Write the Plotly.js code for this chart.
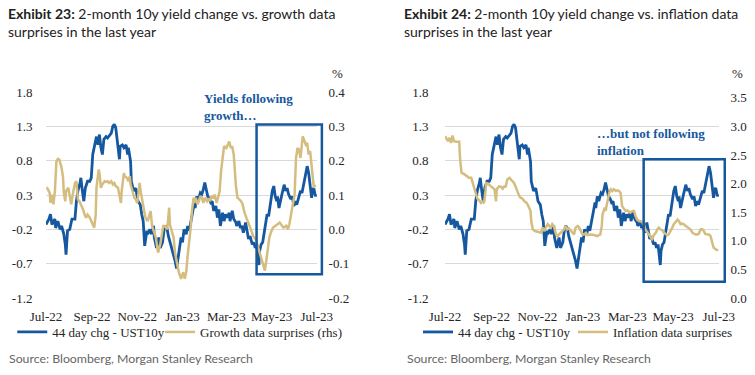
<!DOCTYPE html>
<html><head><meta charset="utf-8">
<script src="https://cdn.plot.ly/plotly-3.0.1.min.js"></script>
<style>
html,body{margin:0;padding:0;background:#fff;width:755px;height:375px;overflow:hidden}
#c1{position:absolute;left:0;top:0;width:377px;height:375px}
#c2{position:absolute;left:378px;top:0;width:377px;height:375px}
</style>
</head><body><div id="c1"></div><div id="c2"></div>
<script>
// 44 day change in UST 10y yield (left axis), same series in both exhibits
const ust10yChg = [
["2022-07-01",-0.13],["2022-07-05",-0.05],["2022-07-07",0.02],["2022-07-09",-0.13],["2022-07-13",-0.05],["2022-07-14",-0.18],["2022-07-17",-0.08],["2022-07-20",-0.20],["2022-07-22",-0.15],["2022-07-25",-0.27],["2022-07-27",-0.42],["2022-07-28",-0.57],["2022-07-30",-0.22],
["2022-08-02",-0.20],["2022-08-05",-0.05],["2022-08-09",-0.05],["2022-08-11",0.21],["2022-08-13",0.36],["2022-08-16",0.48],["2022-08-17",0.55],["2022-08-19",0.36],["2022-08-21",0.21],["2022-08-23",0.40],["2022-08-26",0.50],["2022-08-29",0.50],["2022-08-31",0.55],
["2022-09-02",0.89],["2022-09-05",1.03],["2022-09-07",1.15],["2022-09-09",1.03],["2022-09-11",1.18],["2022-09-13",0.99],["2022-09-15",0.89],["2022-09-17",1.11],["2022-09-20",1.15],["2022-09-22",1.13],["2022-09-25",1.18],["2022-09-27",1.20],["2022-09-29",1.30],
["2022-10-01",1.33],["2022-10-03",1.28],["2022-10-06",1.03],["2022-10-08",0.82],["2022-10-09",1.01],["2022-10-12",1.03],["2022-10-14",0.99],["2022-10-17",1.03],["2022-10-19",0.89],["2022-10-20",0.99],["2022-10-23",0.79],["2022-10-24",0.50],["2022-10-27",0.36],["2022-10-30",0.40],
["2022-11-02",0.21],["2022-11-05",0.16],["2022-11-07",0.02],["2022-11-09",-0.08],["2022-11-11",-0.44],["2022-11-14",-0.22],["2022-11-15",-0.27],["2022-11-18",-0.20],["2022-11-20",-0.27],["2022-11-23",-0.15],["2022-11-24",-0.32],["2022-11-27",-0.47],["2022-11-30",-0.32],
["2022-12-02",-0.47],["2022-12-05",-0.39],["2022-12-07",-0.22],["2022-12-09",-0.15],["2022-12-11",-0.18],["2022-12-13",-0.30],["2022-12-16",-0.42],["2022-12-18",-0.51],["2022-12-20",-0.56],["2022-12-22",-0.66],["2022-12-24",-0.77],["2022-12-26",-0.61],["2022-12-28",-0.42],["2022-12-30",-0.32],
["2023-01-01",-0.39],["2023-01-03",-0.20],["2023-01-06",-0.27],["2023-01-08",-0.15],["2023-01-10",-0.22],["2023-01-12",-0.08],["2023-01-15",0.07],["2023-01-17",0.19],["2023-01-18",0.11],["2023-01-20",0.28],["2023-01-22",0.21],["2023-01-25",0.33],["2023-01-27",0.31],["2023-01-29",0.38],["2023-01-31",0.48],
["2023-02-02",0.38],["2023-02-04",0.28],["2023-02-06",0.25],["2023-02-08",0.19],["2023-02-10",0.21],["2023-02-12",0.07],["2023-02-15",0.14],["2023-02-17",-0.03],["2023-02-19",0.09],["2023-02-21",-0.15],["2023-02-24",0.04],["2023-02-26",-0.08],["2023-02-28",0.02],
["2023-03-02",-0.03],["2023-03-05",0.04],["2023-03-06",-0.08],["2023-03-09",0.07],["2023-03-11",-0.05],["2023-03-14",-0.10],["2023-03-15",-0.15],["2023-03-18",-0.08],["2023-03-20",-0.18],["2023-03-22",-0.15],["2023-03-24",-0.25],["2023-03-27",-0.10],["2023-03-29",-0.22],["2023-03-31",-0.34],
["2023-04-02",-0.30],["2023-04-05",-0.42],["2023-04-07",-0.39],["2023-04-09",-0.47],["2023-04-11",-0.42],["2023-04-13",-0.61],["2023-04-14",-0.72],["2023-04-15",-0.51],["2023-04-17",-0.42],["2023-04-19",-0.39],["2023-04-21",-0.25],["2023-04-23",-0.15],["2023-04-25",0.02],["2023-04-27",-0.01],["2023-04-29",0.16],["2023-04-30",0.24],
["2023-05-02",0.36],["2023-05-04",0.43],["2023-05-06",0.28],["2023-05-08",0.21],["2023-05-09",0.28],["2023-05-11",0.11],["2023-05-13",0.24],["2023-05-15",0.31],["2023-05-18",0.45],["2023-05-20",0.36],["2023-05-22",0.40],["2023-05-24",0.31],["2023-05-27",0.24],["2023-05-29",0.28],["2023-05-31",0.14],
["2023-06-02",0.21],["2023-06-04",0.16],["2023-06-07",0.28],["2023-06-09",0.36],["2023-06-11",0.33],["2023-06-13",0.43],["2023-06-16",0.60],["2023-06-18",0.72],["2023-06-20",0.62],["2023-06-22",0.38],["2023-06-24",0.26],["2023-06-25",0.38],["2023-06-27",0.40],["2023-06-29",0.28],["2023-06-30",0.31]
];

// Growth data surprises (rhs, Exhibit 23)
const growthSurprise = [
["2022-07-02",0.123],["2022-07-04",0.116],["2022-07-06",0.106],["2022-07-07",0.077],["2022-07-09",0.101],["2022-07-11",0.073],["2022-07-13",0.111],["2022-07-15",0.198],["2022-07-17",0.205],["2022-07-19",0.203],["2022-07-22",0.179],["2022-07-24",0.150],["2022-07-25",0.106],["2022-07-27",0.082],["2022-07-28",0.111],["2022-07-31",0.121],
["2022-08-02",0.097],["2022-08-04",0.073],["2022-08-06",0.101],["2022-08-09",0.135],["2022-08-11",0.140],["2022-08-13",0.087],["2022-08-15",0.082],["2022-08-17",0.073],["2022-08-20",0.058],["2022-08-22",0.043],["2022-08-24",0.034],["2022-08-26",0.043],["2022-08-29",0.034],["2022-08-31",0.024],
["2022-09-02",0.014],["2022-09-04",0.005],["2022-09-06",0.043],["2022-09-07",0.121],["2022-09-10",0.174],["2022-09-11",0.164],["2022-09-13",0.121],["2022-09-15",0.131],["2022-09-18",0.140],["2022-09-20",0.138],["2022-09-22",0.140],["2022-09-24",0.135],["2022-09-27",0.140],["2022-09-29",0.131],
["2022-10-01",0.135],["2022-10-03",0.126],["2022-10-06",0.121],["2022-10-08",0.097],["2022-10-10",0.077],["2022-10-11",0.111],["2022-10-14",0.164],["2022-10-15",0.155],["2022-10-18",0.150],["2022-10-20",0.140],["2022-10-22",0.155],["2022-10-23",0.131],["2022-10-26",0.106],["2022-10-28",0.092],["2022-10-30",0.087],
["2022-11-01",0.077],["2022-11-03",0.111],["2022-11-04",0.135],["2022-11-06",0.106],["2022-11-08",0.082],["2022-11-10",0.053],["2022-11-12",0.034],["2022-11-15",0.024],["2022-11-17",0.039],["2022-11-19",0.053],["2022-11-21",0.010],["2022-11-24",-0.010],["2022-11-26",-0.024],["2022-11-28",-0.053],["2022-11-29",-0.068],
["2022-12-02",-0.044],["2022-12-04",-0.019],["2022-12-06",0.010],["2022-12-08",0.010],["2022-12-11",0.000],["2022-12-12",0.014],["2022-12-14",0.063],["2022-12-15",0.014],["2022-12-17",-0.005],["2022-12-20",-0.024],["2022-12-22",-0.070],["2022-12-24",-0.091],["2022-12-27",-0.125],["2022-12-30",-0.144],
["2023-01-02",-0.125],["2023-01-04",-0.144],["2023-01-06",-0.125],["2023-01-08",-0.075],["2023-01-10",-0.040],["2023-01-12",0.005],["2023-01-14",0.060],["2023-01-15",0.087],["2023-01-16",0.092],["2023-01-17",0.077],["2023-01-19",0.092],["2023-01-21",0.073],["2023-01-23",0.082],["2023-01-25",0.097],["2023-01-27",0.092],["2023-01-29",0.077],["2023-01-31",0.092],
["2023-02-03",0.082],["2023-02-05",0.090],["2023-02-07",0.082],["2023-02-09",0.097],["2023-02-11",0.090],["2023-02-13",0.101],["2023-02-16",0.077],["2023-02-18",0.092],["2023-02-20",0.111],["2023-02-22",0.170],["2023-02-24",0.208],["2023-02-26",0.242],
["2023-03-01",0.237],["2023-03-03",0.247],["2023-03-05",0.256],["2023-03-07",0.237],["2023-03-09",0.242],["2023-03-11",0.218],["2023-03-12",0.174],["2023-03-14",0.126],["2023-03-16",0.092],["2023-03-19",0.087],["2023-03-21",0.082],["2023-03-23",0.073],["2023-03-25",0.053],["2023-03-28",0.034],["2023-03-30",0.024],
["2023-04-01",0.010],["2023-04-04",-0.005],["2023-04-06",-0.019],["2023-04-10",-0.030],["2023-04-13",-0.053],["2023-04-18",-0.090],["2023-04-22",-0.120],["2023-04-24",-0.090],["2023-04-26",-0.053],["2023-04-28",-0.024],["2023-04-30",-0.010],
["2023-05-03",0.005],["2023-05-06",0.010],["2023-05-09",0.015],["2023-05-12",0.020],["2023-05-17",0.005],["2023-05-21",0.010],["2023-05-23",0.000],["2023-05-25",0.014],["2023-05-28",0.053],["2023-05-30",0.082],
["2023-06-01",0.100],["2023-06-03",0.208],["2023-06-05",0.237],["2023-06-07",0.232],["2023-06-09",0.208],["2023-06-12",0.271],["2023-06-14",0.261],["2023-06-16",0.247],["2023-06-18",0.252],["2023-06-20",0.218],["2023-06-22",0.228],["2023-06-25",0.150],["2023-06-27",0.121],["2023-06-29",0.130]
];

// Inflation data surprises (rhs, Exhibit 24)
const inflationSurprise = [
["2022-07-01",2.83],["2022-07-04",2.77],["2022-07-05",2.74],["2022-07-07",2.80],["2022-07-09",2.71],["2022-07-11",2.84],["2022-07-13",2.74],["2022-07-16",2.73],["2022-07-18",2.73],["2022-07-20",2.73],["2022-07-21",2.45],["2022-07-23",2.19],["2022-07-27",2.16],["2022-07-30",2.13],
["2022-08-02",2.10],["2022-08-05",2.10],["2022-08-07",2.01],["2022-08-09",1.93],["2022-08-11",1.81],["2022-08-13",1.74],["2022-08-16",1.70],["2022-08-18",1.66],["2022-08-20",1.68],["2022-08-22",1.66],["2022-08-24",1.87],["2022-08-25",2.01],["2022-08-27",2.00],["2022-08-29",1.98],["2022-08-31",1.95],
["2022-09-02",1.94],["2022-09-05",1.90],["2022-09-07",1.69],["2022-09-08",1.90],["2022-09-11",1.95],["2022-09-14",1.94],["2022-09-16",1.91],["2022-09-18",1.95],["2022-09-20",1.95],["2022-09-22",2.07],["2022-09-25",2.10],["2022-09-27",2.07],["2022-09-29",2.04],
["2022-10-01",2.01],["2022-10-03",1.95],["2022-10-06",1.84],["2022-10-08",1.78],["2022-10-10",1.75],["2022-10-12",1.74],["2022-10-15",1.69],["2022-10-18",1.66],["2022-10-20",1.61],["2022-10-23",1.52],["2022-10-24",1.34],["2022-10-26",1.20],["2022-10-29",1.17],
["2022-11-01",1.16],["2022-11-06",1.14],["2022-11-08",1.23],["2022-11-10",1.17],["2022-11-12",1.22],["2022-11-15",1.29],["2022-11-17",1.26],["2022-11-19",1.23],["2022-11-21",1.29],["2022-11-23",1.26],["2022-11-26",1.11],["2022-11-28",1.08],["2022-11-30",1.11],
["2022-12-02",1.14],["2022-12-05",1.17],["2022-12-07",1.20],["2022-12-09",1.26],["2022-12-11",1.20],["2022-12-13",1.22],["2022-12-16",1.17],["2022-12-18",1.14],["2022-12-20",1.11],["2022-12-22",1.23],["2022-12-25",1.26],["2022-12-27",1.23],["2022-12-29",1.17],["2022-12-31",1.12],
["2023-01-02",1.11],["2023-01-05",1.14],["2023-01-07",1.10],["2023-01-09",1.11],["2023-01-11",1.11],["2023-01-16",1.10],["2023-01-20",1.08],["2023-01-24",1.11],["2023-01-26",1.26],["2023-01-27",1.46],["2023-01-28",1.52],["2023-01-30",1.58],["2023-01-31",1.52],
["2023-02-02",1.66],["2023-02-05",1.84],["2023-02-07",1.90],["2023-02-09",1.87],["2023-02-11",1.90],["2023-02-14",1.87],["2023-02-16",1.88],["2023-02-18",1.87],["2023-02-20",1.84],["2023-02-22",1.61],["2023-02-25",1.55],["2023-02-27",1.52],
["2023-03-01",1.53],["2023-03-03",1.51],["2023-03-05",1.49],["2023-03-08",1.52],["2023-03-10",1.52],["2023-03-12",1.43],["2023-03-14",1.37],["2023-03-17",1.34],["2023-03-19",1.34],["2023-03-21",1.32],["2023-03-23",1.29],["2023-03-25",1.20],["2023-03-28",1.14],["2023-03-30",1.11],
["2023-04-01",1.05],["2023-04-03",1.03],["2023-04-06",1.11],["2023-04-08",1.14],["2023-04-10",1.20],["2023-04-12",1.23],["2023-04-14",1.20],["2023-04-17",1.18],["2023-04-19",1.14],["2023-04-21",1.11],["2023-04-23",1.10],["2023-04-25",1.11],["2023-04-28",1.17],["2023-04-30",1.23],
["2023-05-02",1.29],["2023-05-04",1.32],["2023-05-07",1.37],["2023-05-09",1.34],["2023-05-11",1.29],["2023-05-13",1.30],["2023-05-15",1.29],["2023-05-18",1.26],["2023-05-20",1.24],["2023-05-22",1.23],["2023-05-24",1.20],["2023-05-27",1.14],["2023-05-29",1.12],["2023-05-31",1.11],
["2023-06-02",1.11],["2023-06-04",1.12],["2023-06-07",1.20],["2023-06-09",1.20],["2023-06-11",1.17],["2023-06-13",1.12],["2023-06-16",1.11],["2023-06-18",1.11],["2023-06-20",1.08],["2023-06-22",0.97],["2023-06-24",0.88],["2023-06-27",0.85],["2023-06-29",0.83],["2023-06-30",0.83]
];

const monthTicks = ["2022-07-01","2022-09-01","2022-11-01","2023-01-01","2023-03-01","2023-05-01","2023-07-01"];
const monthLabels = ["Jul-22","Sep-22","Nov-22","Jan-23","Mar-23","May-23","Jul-23"];
const yieldTicks = [-1.2,-0.7,-0.2,0.3,0.8,1.3,1.8];
const yieldTickText = ["-1.2","-0.7","-0.2","0.3","0.8","1.3","1.8"];
const growthTicks = [-0.2,-0.1,0,0.1,0.2,0.3,0.4];
const growthTickText = ["-0.2","-0.1","0.0","0.1","0.2","0.3","0.4"];
const inflTicks = [0,0.5,1,1.5,2,2.5,3,3.5];
const inflTickText = ["0.0","0.5","1.0","1.5","2.0","2.5","3.0","3.5"];

const BLUE = "#16589f";
const GOLD = "#d4bd7f";
const SERIF = "Liberation Serif, Times New Roman, serif";
const SANS = "Lato, Open Sans, sans-serif";
const TXT = "#262626";

function xs(a){return a.map(p=>p[0]);}
function ys(a){return a.map(p=>p[1]);}

function buildLayout(o){
  const legBase = {orientation:"h", xanchor:"left", y:-0.165, yanchor:"middle", font:{family:SERIF, size:13, color:TXT},
      bgcolor:"rgba(0,0,0,0)", itemwidth:30};
  return {
    width:377, height:375,
    margin:{l:o.ml, r:377-o.ml-o.pw, t:92, b:77, pad:0},
    paper_bgcolor:"#fff", plot_bgcolor:"#fff",
    showlegend:true,
    xaxis:{type:"date", range:["2022-07-01","2023-07-01 06:00"], tickmode:"array", tickvals:monthTicks, ticktext:monthLabels,
      showgrid:false, zeroline:false, showline:false, ticks:"outside", ticklen:6, tickcolor:"rgba(0,0,0,0)",
      tickfont:{family:SERIF, size:13, color:TXT}, fixedrange:true},
    yaxis:{range:[-1.2,1.8], tickmode:"array", tickvals:yieldTicks, ticktext:yieldTickText, showgrid:true, gridcolor:"#d9d9d9", gridwidth:1,
      zeroline:false, showline:false, ticks:"outside", ticklen:o.ytl, tickcolor:"rgba(0,0,0,0)", tickfont:{family:SERIF, size:13, color:TXT}},
    yaxis2:{range:o.y2range, overlaying:"y", side:"right", tickmode:"array", tickvals:o.y2ticks, ticktext:o.y2text, showgrid:false,
      zeroline:false, showline:false, ticks:"outside", ticklen:8, tickcolor:"rgba(0,0,0,0)", tickfont:{family:SERIF, size:13, color:TXT}},
    legend:Object.assign({x:o.leg1X}, legBase),
    legend2:Object.assign({x:o.leg2X}, legBase),
    shapes:[{type:"rect", xref:"paper", yref:"paper", x0:o.box[0], x1:o.box[1], y0:o.box[2], y1:o.box[3],
      line:{color:BLUE, width:2.5}, fillcolor:"rgba(0,0,0,0)", layer:"above"}],
    annotations:[
      {text:o.title, xref:"paper", yref:"paper", x:o.titleX, y:1.43, xanchor:"left", yanchor:"top", align:"left", showarrow:false,
        font:{family:SANS, size:14, color:"#222"}},
      {text:o.note, xref:"paper", yref:"paper", x:o.noteX, y:o.noteY, xanchor:"left", yanchor:"middle", align:"left", showarrow:false,
        font:{family:SERIF, size:13, color:BLUE}},
      {text:"%", xref:"paper", yref:"paper", x:o.pctX, y:1.091, xanchor:"center", yanchor:"middle", showarrow:false,
        font:{family:SERIF, size:13, color:TXT}},
      {text:"Source: Bloomberg, Morgan Stanley Research", xref:"paper", yref:"paper", x:o.srcX, y:-0.296, xanchor:"left", yanchor:"middle",
        showarrow:false, font:{family:SANS, size:12.3, color:"#666"}}
    ]
  };
}

const cfg = {displayModeBar:false, staticPlot:true};

Plotly.newPlot("c1", [
  {x:xs(ust10yChg), y:ys(ust10yChg), type:"scatter", mode:"lines", name:"44 day chg - UST10y", line:{color:BLUE, width:2.8}, yaxis:"y", legend:"legend"},
  {x:xs(growthSurprise), y:ys(growthSurprise), type:"scatter", mode:"lines", name:"Growth data surprises (rhs)", line:{color:GOLD, width:2.5}, yaxis:"y2", legend:"legend2"}
], buildLayout({
  ml:44, pw:273, ytl:10, titleX:-0.148,
  title:"<b>Exhibit 23:</b> 2-month 10y yield change vs. growth data<br>surprises in the last year",
  y2range:[-0.2,0.4], y2ticks:growthTicks, y2text:growthTickText,
  leg1X:-0.1245, leg2X:0.421, box:[0.777,1.018,0.115,0.842],
  note:"<b>Yields following<br>growth…</b>", noteX:0.575, noteY:0.928, pctX:1.077, srcX:-0.143
}), cfg);

Plotly.newPlot("c2", [
  {x:xs(ust10yChg), y:ys(ust10yChg), type:"scatter", mode:"lines", name:"44 day chg - UST10y", line:{color:BLUE, width:2.8}, yaxis:"y", legend:"legend"},
  {x:xs(inflationSurprise), y:ys(inflationSurprise), type:"scatter", mode:"lines", name:"Inflation data surprises", line:{color:GOLD, width:2.5}, yaxis:"y2", legend:"legend2"}
], buildLayout({
  ml:67, pw:274, ytl:13, titleX:-0.1565,
  title:"<b>Exhibit 24:</b> 2-month 10y yield change vs. inflation data<br>surprises in the last year",
  y2range:[0,3.6], y2ticks:inflTicks, y2text:inflTickText,
  leg1X:-0.0985, leg2X:0.467, box:[0.725,1.021,0.079,0.674],
  note:"<b>…but not following<br>inflation</b>", noteX:0.548, noteY:0.759, pctX:1.069, srcX:-0.146
}), cfg);
</script>
</body></html>
